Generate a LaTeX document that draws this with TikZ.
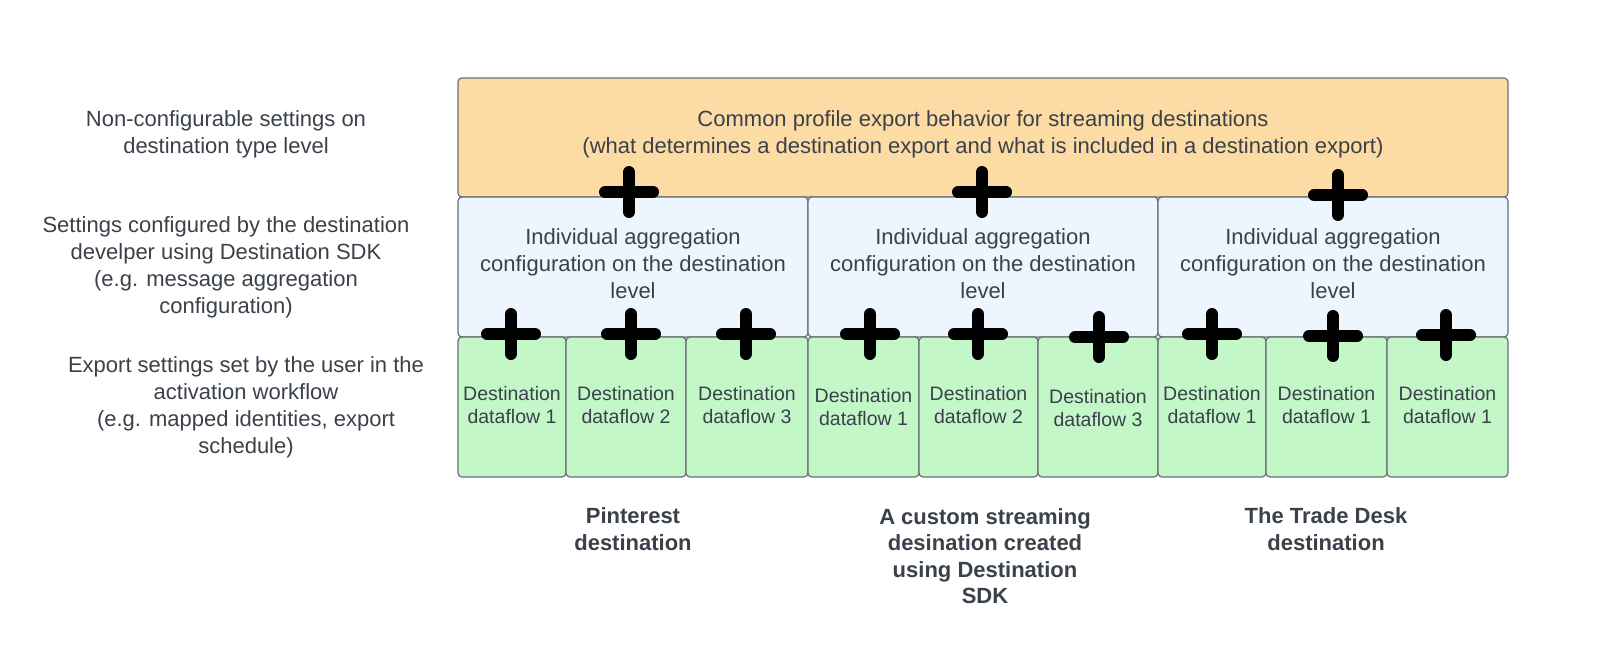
\documentclass[tikz,border=0pt]{standalone}
\usepackage{fontspec}
\setmainfont{Liberation Sans}
\definecolor{orfill}{HTML}{FDDBA5}
\definecolor{blfill}{HTML}{EDF5FF}
\definecolor{grfill}{HTML}{C3F7C8}
\definecolor{edgegray}{HTML}{6A6E74}
\definecolor{txtcol}{HTML}{3A414A}
\begin{document}
\begin{tikzpicture}[x=1pt,y=-1pt,
  box/.style={draw=edgegray, line width=1.2pt, rounded corners=4pt, inner sep=0pt, outer sep=0pt},
  obox/.style={box, fill=orfill, minimum height=119pt},
  bbox/.style={box, fill=blfill, minimum width=350pt, minimum height=140pt},
  gbox/.style={box, fill=grfill, minimum height=140pt},
  txt/.style={text=txtcol, font=\fontsize{22}{27}\selectfont, align=center, inner sep=0pt},
  gtxt/.style={text=txtcol, font=\fontsize{19.5}{23.5}\selectfont, align=center, inner sep=0pt},
  btxt/.style={text=txtcol, font=\bfseries\fontsize{22}{26.5}\selectfont, align=center, inner sep=0pt},
  plusline/.style={draw=black, line width=12pt, line cap=round},
  plusmark/.pic={\draw[plusline] (-24,0) -- (24,0) (0,-20) -- (0,20);}
]
\useasboundingbox (0,0) rectangle (1602,661);

% top box
\node[obox, minimum width=1050pt] (top) at (983,137.5) {};
% blue boxes
\node[bbox] (b1) at (633,267) {};
\node[bbox] (b2) at (983,267) {};
\node[bbox] (b3) at (1333,267) {};
% green boxes
\node[gbox, minimum width=108pt] (g1) at (512,407) {};
\node[gbox, minimum width=120pt] (g2) at (626,407) {};
\node[gbox, minimum width=122pt] (g3) at (747,407) {};
\node[gbox, minimum width=111pt] (g4) at (863.5,407) {};
\node[gbox, minimum width=119pt] (g5) at (978.5,407) {};
\node[gbox, minimum width=120pt] (g6) at (1098,407) {};
\node[gbox, minimum width=108pt] (g7) at (1212,407) {};
\node[gbox, minimum width=121pt] (g8) at (1326.5,407) {};
\node[gbox, minimum width=121pt] (g9) at (1447.5,407) {};

% texts in boxes
\node[txt] (toptxt) at (983,134) {Common profile export behavior for streaming destinations\\(what determines a destination export and what is included in a destination export)};
\node[txt] (b1txt) at (633,264) {Individual aggregation\\configuration on the destination\\level};
\node[txt] (b2txt) at (983,264) {Individual aggregation\\configuration on the destination\\level};
\node[txt] (b3txt) at (1333,264) {Individual aggregation\\configuration on the destination\\level};
\node[gtxt] (g1txt) at (512,405) {Destination\\dataflow 1};
\node[gtxt] (g2txt) at (626,405) {Destination\\dataflow 2};
\node[gtxt] (g3txt) at (747,405) {Destination\\dataflow 3};
\node[gtxt] (g4txt) at (863.5,407) {Destination\\dataflow 1};
\node[gtxt] (g5txt) at (978.5,405) {Destination\\dataflow 2};
\node[gtxt] (g6txt) at (1098,408) {Destination\\dataflow 3};
\node[gtxt] (g7txt) at (1212,405) {Destination\\dataflow 1};
\node[gtxt] (g8txt) at (1326.5,405) {Destination\\dataflow 1};
\node[gtxt] (g9txt) at (1447.5,405) {Destination\\dataflow 1};

% left labels
\node[txt] (l1) at (226,134) {Non-configurable settings on\\destination type level};
\node[txt] (l2) at (226,267) {Settings configured by the destination\\develper using Destination SDK\\(e.g. message aggregation\\configuration)};
\node[txt] (l3) at (246,407) {Export settings set by the user in the\\activation workflow\\(e.g. mapped identities, export\\schedule)};

% bottom labels
\node[btxt] (d1) at (633,529) {Pinterest\\destination};
\node[btxt] (d2) at (985,556) {A custom streaming\\desination created\\using Destination\\SDK};
\node[btxt] (d3) at (1326,529) {The Trade Desk\\destination};

% plus signs
\pic at (629,192) {plusmark};
\pic at (982,192) {plusmark};
\pic at (1338,195) {plusmark};
\pic at (511,334) {plusmark};
\pic at (631,334) {plusmark};
\pic at (746,334) {plusmark};
\pic at (870,334) {plusmark};
\pic at (978,334) {plusmark};
\pic at (1099,337) {plusmark};
\pic at (1212,334) {plusmark};
\pic at (1333,336) {plusmark};
\pic at (1446,335) {plusmark};
\end{tikzpicture}
\end{document}
